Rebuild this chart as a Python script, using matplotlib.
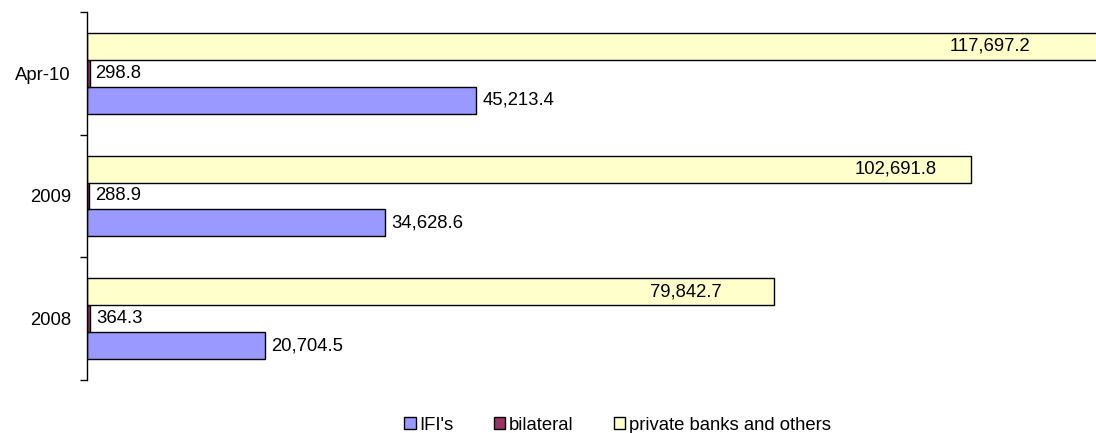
import numpy as np
import matplotlib
matplotlib.use("Agg")
import matplotlib.pyplot as plt
from matplotlib.patches import Patch

plt.rcParams['font.family'] = ['Liberation Sans', 'DejaVu Sans']

categories = ['2008', '2009', 'Apr-10']
ifis = [20704.5, 34628.6, 45213.4]
bilateral = [364.3, 288.9, 298.8]
private = [79842.7, 102691.8, 117697.2]
series_names = ["IFI's", 'bilateral', 'private banks and others']
colors = ['#9999FF', '#993366', '#FFFFCC']
# pixel offsets of the inside labels for the private series
private_label_offsets = [53, 34, 70]

W, H = 1096, 433
fig = plt.figure(figsize=(W / 100, H / 100), dpi=100)
ax = fig.add_axes([87 / W, 53 / H, 1009 / W, 368 / H])

y = np.arange(len(categories))
h = 0.22
fs = 13.3
ax.barh(y - h, ifis, h, color=colors[0], edgecolor='black', linewidth=1.0)
ax.barh(y, bilateral, h, color=colors[1], edgecolor='black', linewidth=1.0)
ax.barh(y + h, private, h, color=colors[2], edgecolor='black', linewidth=1.0)

ax.set_xlim(0, 1009 / 0.008608)
ax.set_ylim(-0.5, len(categories) - 0.5)

for i in range(len(categories)):
    ax.annotate(f'{ifis[i]:,.1f}', (ifis[i], y[i] - h), xytext=(6, 0),
                textcoords='offset pixels', ha='left', va='center', fontsize=fs,
                annotation_clip=False)
    ax.annotate(f'{bilateral[i]:,.1f}', (bilateral[i], y[i]), xytext=(6, 0),
                textcoords='offset pixels', ha='left', va='center', fontsize=fs,
                annotation_clip=False)
    ax.annotate(f'{private[i]:,.1f}', (private[i], y[i] + h),
                xytext=(-private_label_offsets[i], 0),
                textcoords='offset pixels', ha='right', va='center', fontsize=fs,
                annotation_clip=False)

for s in ['top', 'right', 'bottom']:
    ax.spines[s].set_visible(False)
ax.spines['left'].set_color('black')
ax.spines['left'].set_linewidth(1.0)
ax.set_xticks([])
ax.set_yticks(np.arange(-0.5, len(categories), 1.0))
ax.set_yticklabels([])
ax.tick_params(axis='y', which='major', length=5, width=1.0, direction='out', color='black')
ax.set_yticks(y, minor=True)
ax.set_yticklabels(categories, minor=True, fontsize=fs)
ax.tick_params(axis='y', which='minor', length=0, pad=11.5)

# Title (clipped at top of the picture, as in the reference)
fig.text(237 / W, 1 + 2.5 / H,
         'External public debt by type of creditor, end of period (mln USD)',
         ha='left', va='baseline', fontsize=11, fontweight='bold')

handles = [Patch(facecolor=c, edgecolor='black', linewidth=1.0) for c in colors]
fig.legend(handles, series_names, loc='center', bbox_to_anchor=(617.5 / W, 8 / H),
           ncol=3, frameon=False, fontsize=fs, handlelength=0.62, handleheight=0.62,
           handletextpad=0.2, columnspacing=2.17, borderpad=0, borderaxespad=0)

fig.savefig('out.png', dpi=100)
